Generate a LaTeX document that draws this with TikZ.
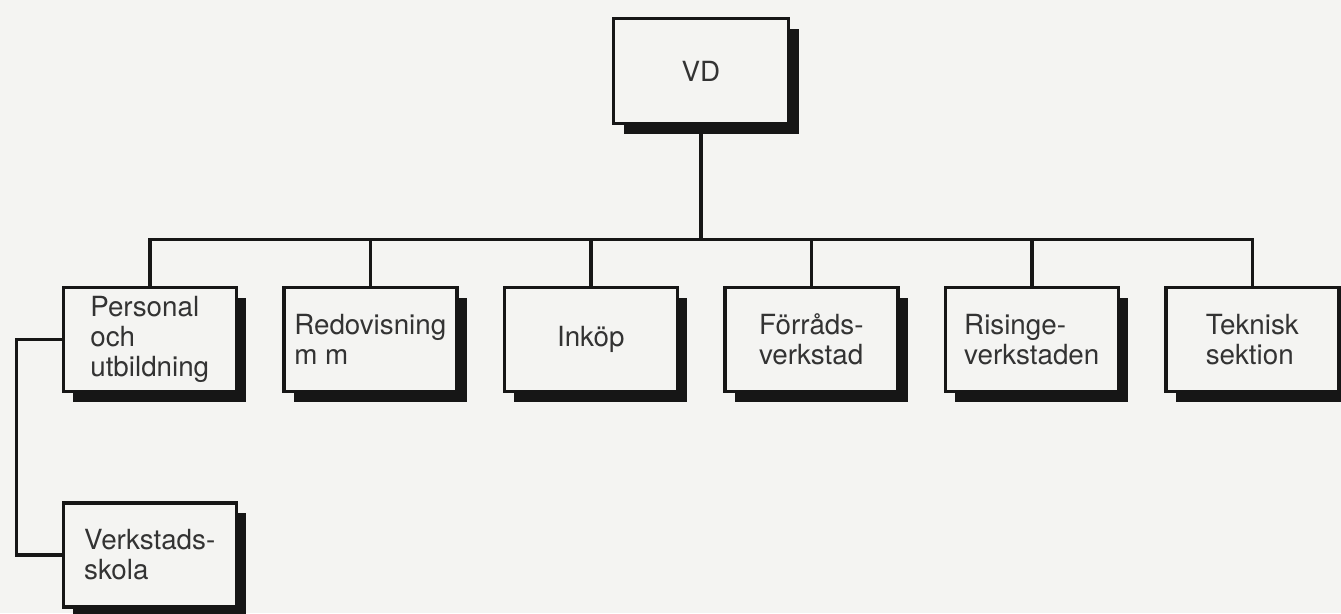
\documentclass[tikz,border=0pt]{standalone}
\usepackage{fontspec}
\setmainfont{TeX Gyre Heros}
\usepackage{tikz}
\usetikzlibrary{positioning, shadows}
\definecolor{paper}{RGB}{244,244,242}
\definecolor{ink}{RGB}{22,22,22}
\tikzset{
    orgbox/.style={
        rectangle,
        draw=ink, % 边框颜色
        fill=paper, % 填充与纸色相同
        line width=0.07cm, % 边框加粗
        minimum width=3.46cm,
        minimum height=2.08cm,
        inner sep=0,
        align=left,
        text=black!80,
        font=\fontsize{15.8}{17}\selectfont,
        drop shadow={shadow xshift=0.2cm, shadow yshift=-0.2cm, fill=ink, opacity=1}
    },
    topbox/.style={
        minimum width=3.5cm,
        minimum height=2.1cm
    }
}

\begin{document}
\begin{tikzpicture}[
                level 1/.style={sibling distance=4.41cm, level distance=5.37cm},
                level 2/.style={level distance=4.31cm},
                every node/.style={orgbox},
                edge from parent/.style={draw=ink, line width=0.07cm},
                edge from parent path={(\tikzparentnode.south) -- ++(0,-2.28) -| (\tikzchildnode.north)}
            ]
            \fill[paper] (0,0) rectangle (26.82,-12.26);
            \useasboundingbox (0,0) rectangle (26.82,-12.26);
            % 组织结构
            \node[topbox] (vd) at (14.02,-1.42) {VD}
                child {
                    node (personal) {Personal\\och\\utbildning}
                    child[edge from parent path={(\tikzparentnode.west) -- ++(-0.9,0) |- (\tikzchildnode.west)}] {
                        node (skola) {Verkstads-\\skola}
                    }
                }
                child { node (redovisning) {Redovisning\\m m} }
                child { node (inkop) {Inköp} }
                child { node (forrad) {Förråds-\\verkstad} }
                child { node (risinge) {Risinge-\\verkstaden} }
                child { node (teknisk) {Teknisk\\sektion} };
            \end{tikzpicture}
\end{document}
